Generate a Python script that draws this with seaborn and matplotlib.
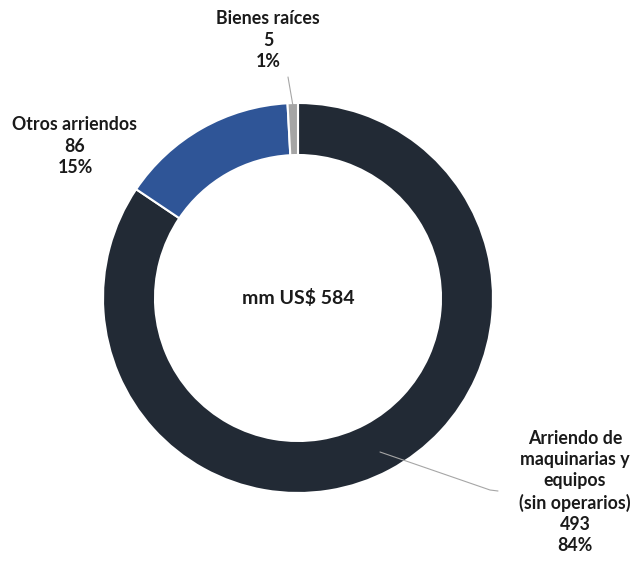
import seaborn as sns
import matplotlib.pyplot as plt

# slice data (clockwise from the top)
categories = ['Arriendo de\nmaquinarias y\nequipos\n(sin operarios)', 'Otros arriendos', 'Bienes raíces']
values = [493, 86, 5]
shares = ['84%', '15%', '1%']
colors = ['#222a35', '#2f5597', '#a5a5a5']
total_label = 'mm US$ 584'

sns.set_theme(style='white')
plt.rcParams['font.family'] = ['Lato', 'DejaVu Sans']

W, H = 633, 561
fig = plt.figure(figsize=(W / 100, H / 100), dpi=100)
ax = fig.add_axes([0, 0, 1, 1])

cx, cy, r = 298, H - 298, 195
ax.pie(values, colors=colors, startangle=90, counterclock=False,
       center=(cx, cy), radius=r, frame=True,
       wedgeprops=dict(width=52, edgecolor='white', linewidth=1.5))
ax.set_xlim(0, W)
ax.set_ylim(0, H)
ax.set_aspect('equal')
ax.axis('off')

# labels (image coords -> flip y)
label_pos = [(575, 492), (75, 146), (268, 40)]
for name, v, s, (x, y) in zip(categories, values, shares, label_pos):
    ax.text(x, H - y, f'{name}\n{v}\n{s}', ha='center', va='center',
            fontsize=12.8, fontweight='bold', color='#1a1a1a', linespacing=1.3)

# leader lines
ax.plot([380, 490, 498], [H - 452, H - 490, H - 491], color='#a6a6a6', lw=0.8)
ax.plot([293, 288], [H - 106, H - 77], color='#a6a6a6', lw=0.8)

ax.text(cx, cy, total_label, ha='center', va='center', fontsize=14,
        fontweight='bold', color='#1a1a1a')

plt.savefig('out.png', dpi=100)
